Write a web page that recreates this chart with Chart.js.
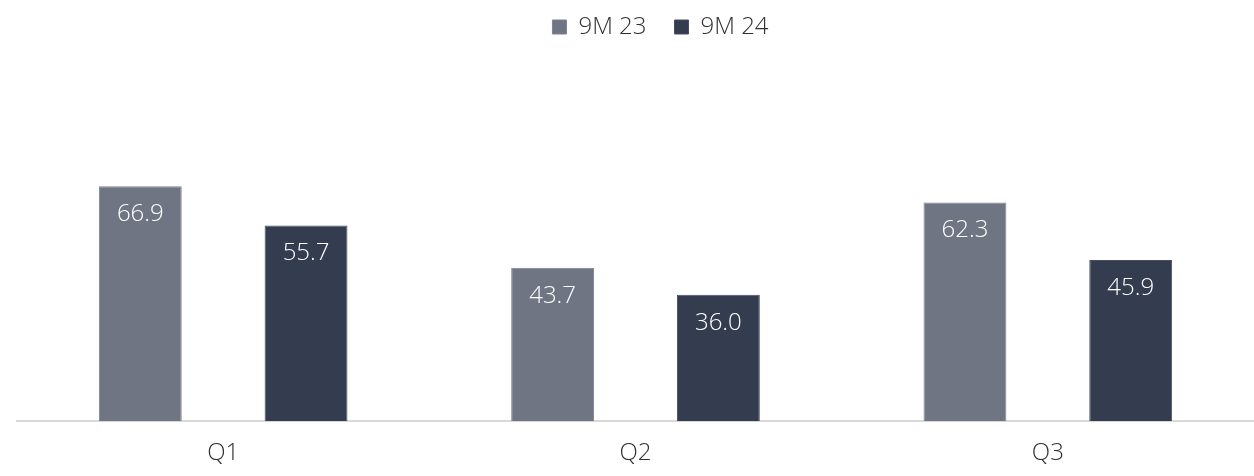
<!DOCTYPE html>
<html>
<head>
<meta charset="utf-8">
<style>
  html, body { margin: 0; padding: 0; background: #fff; }
  #wrap { width: 1254px; height: 476px; }
</style>
<script src="https://cdn.jsdelivr.net/npm/chart.js@4/dist/chart.umd.min.js"></script>
</head>
<body>
<div id="wrap"><canvas id="chart" width="1254" height="476"></canvas></div>
<script>
const quarters = ["Q1", "Q2", "Q3"];
const labels9M23 = "9M 23";
const labels9M24 = "9M 24";
const values9M23 = [66.9, 43.7, 62.3];
const values9M24 = [55.7, 36.0, 45.9];

const FONT = "'Open Sans', 'DejaVu Sans', sans-serif";

// white numbers inside the bars, near the top
const barLabels = {
    id: "barLabels",
    afterDatasetsDraw(chart) {
        const ctx = chart.ctx;
        ctx.save();
        ctx.font = "300 24px " + FONT;
        ctx.fillStyle = "#ffffff";
        ctx.textAlign = "center";
        ctx.textBaseline = "middle";
        chart.data.datasets.forEach((ds, i) => {
            chart.getDatasetMeta(i).data.forEach((bar, j) => {
                ctx.fillText(ds.data[j].toFixed(1), bar.x, bar.y + 28);
            });
        });
        ctx.restore();
    }
};

// extra room under the legend, and legend nudged a bit to the right
const legendGap = {
    id: "legendGap",
    beforeInit(chart) {
        const fit = chart.legend.fit;
        chart.legend.fit = function () {
            fit.bind(chart.legend)();
            this.height += 21;
        };
    },
    afterLayout(chart) {
        chart.legend.left += 25;
        chart.legend.right += 25;
    }
};

const ctx = document.getElementById("chart").getContext("2d");
const chart = new Chart(ctx, {
    type: "bar",
    data: {
        labels: quarters,
        datasets: [
            {
                label: labels9M23,
                data: values9M23,
                backgroundColor: "#6f7583",
                borderColor: "#7d8390",
                borderWidth: 1
            },
            {
                label: labels9M24,
                data: values9M24,
                backgroundColor: "#333d4f",
                borderColor: "#454f60",
                borderWidth: 1
            }
        ]
    },
    options: {
        responsive: false,
        animation: false,
        categoryPercentage: 0.804,
        barPercentage: 0.5,
        layout: { padding: { left: 17, right: 0, top: -13, bottom: -10 } },
        plugins: {
            legend: {
                position: "top",
                labels: {
                    boxWidth: 14,
                    boxHeight: 14,
                    padding: 28,
                    color: "#303030",
                    font: { family: FONT, size: 24, weight: "300" }
                }
            },
            tooltip: { enabled: false }
        },
        scales: {
            x: {
                grid: { display: false, drawTicks: false },
                border: { color: "#d9d9d9", width: 2 },
                ticks: {
                    color: "#303030",
                    padding: 18,
                    font: { family: FONT, size: 24, weight: "300" }
                }
            },
            y: {
                display: false,
                min: 0,
                max: 100
            }
        }
    },
    plugins: [barLabels, legendGap]
});
</script>
</body>
</html>
